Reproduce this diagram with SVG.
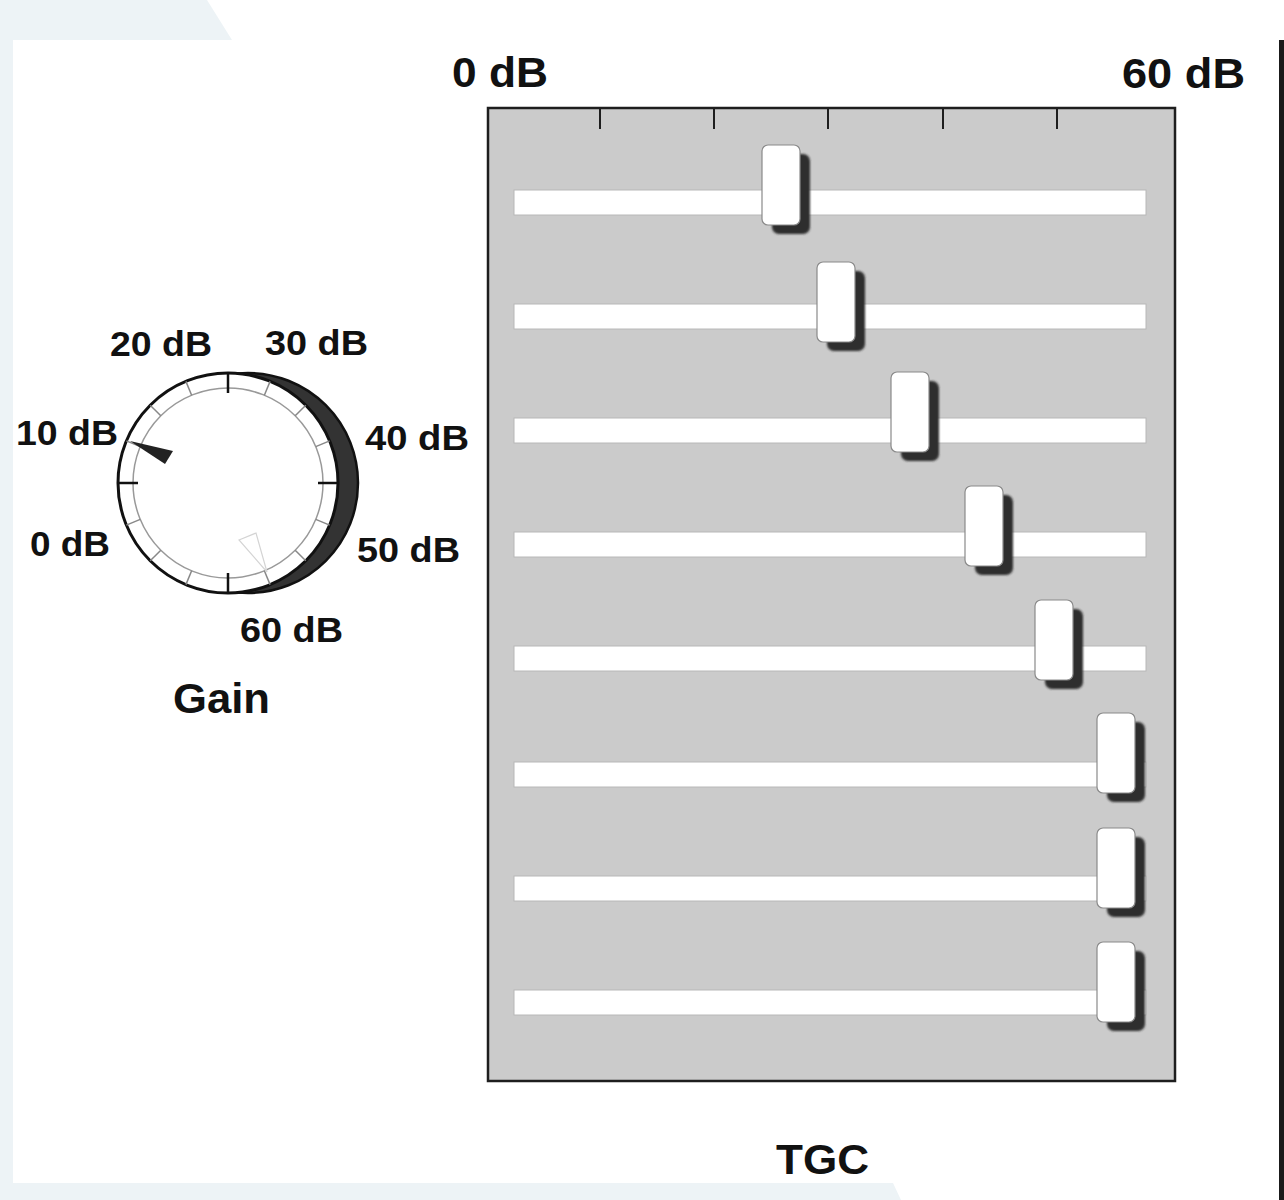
<svg xmlns="http://www.w3.org/2000/svg" width="1284" height="1200" viewBox="0 0 1284 1200">
<style>
.lbl{font-family:"Liberation Sans",Arial,sans-serif;font-weight:bold;fill:#111;}
.dial{font-size:35px;}
.big{font-size:42px;}
.track{fill:#fff;stroke:#b8b8b8;stroke-width:1;}
.handle{fill:#fff;stroke:#8a8a8a;stroke-width:1.2;}
.shadow{fill:#2e2e2e;}
.minor{stroke:#888;stroke-width:1.5;}
.major{stroke:#111;stroke-width:2.5;}
</style>
<defs>
<filter id="soft" x="-20%" y="-20%" width="140%" height="140%"><feGaussianBlur stdDeviation="0.8"/></filter>
<g id="h">
<rect class="shadow" x="10" y="9" width="38" height="80" rx="7" filter="url(#soft)"/>
<rect class="handle" x="0" y="0" width="38" height="80" rx="6"/>
</g>
</defs>
<rect x="0" y="0" width="1284" height="1200" fill="#ffffff"/>
<polygon points="0,0 207,0 232,40 13,40 13,1183 893,1183 901,1200 0,1200" fill="#edf3f6"/>
<rect x="1279" y="40" width="5" height="1160" fill="#1a1a1a"/>

<g id="gain-knob">
<circle cx="248" cy="483" r="110" fill="#333" stroke="#111" stroke-width="2.5"/>
<circle cx="228" cy="483" r="110" fill="#fff" stroke="#111" stroke-width="3"/>
<circle cx="228" cy="483" r="95" fill="none" stroke="#999" stroke-width="1.5"/>
<g transform="translate(228,483)">
<line class="major" x1="0" y1="-110" x2="0" y2="-90"/>
<line class="major" x1="0" y1="110" x2="0" y2="90"/>
<line class="major" x1="-110" y1="0" x2="-90" y2="0"/>
<line class="major" x1="110" y1="0" x2="90" y2="0"/>
<g class="minor">
<line x1="0" y1="-110" x2="0" y2="-95" transform="rotate(22.5)"/>
<line x1="0" y1="-110" x2="0" y2="-95" transform="rotate(45)"/>
<line x1="0" y1="-110" x2="0" y2="-95" transform="rotate(67.5)"/>
<line x1="0" y1="-110" x2="0" y2="-95" transform="rotate(112.5)"/>
<line x1="0" y1="-110" x2="0" y2="-95" transform="rotate(135)"/>
<line x1="0" y1="-110" x2="0" y2="-95" transform="rotate(157.5)"/>
<line x1="0" y1="-110" x2="0" y2="-95" transform="rotate(202.5)"/>
<line x1="0" y1="-110" x2="0" y2="-95" transform="rotate(225)"/>
<line x1="0" y1="-110" x2="0" y2="-95" transform="rotate(247.5)"/>
<line x1="0" y1="-110" x2="0" y2="-95" transform="rotate(292.5)"/>
<line x1="0" y1="-110" x2="0" y2="-95" transform="rotate(315)"/>
<line x1="0" y1="-110" x2="0" y2="-95" transform="rotate(337.5)"/>
</g>
</g>
<polygon points="130,441 173,451 165,464" fill="#222"/>
<polygon points="239,540 256,533 267,572" fill="none" stroke="#d4d4d4" stroke-width="1.2"/>
<text class="lbl dial" x="110" y="356" textLength="102" lengthAdjust="spacingAndGlyphs">20 dB</text>
<text class="lbl dial" x="265" y="355" textLength="103" lengthAdjust="spacingAndGlyphs">30 dB</text>
<text class="lbl dial" x="16" y="445" textLength="102" lengthAdjust="spacingAndGlyphs">10 dB</text>
<text class="lbl dial" x="365" y="450" textLength="104" lengthAdjust="spacingAndGlyphs">40 dB</text>
<text class="lbl dial" x="30" y="556" textLength="80" lengthAdjust="spacingAndGlyphs">0 dB</text>
<text class="lbl dial" x="357" y="562" textLength="103" lengthAdjust="spacingAndGlyphs">50 dB</text>
<text class="lbl dial" x="240" y="642" textLength="103" lengthAdjust="spacingAndGlyphs">60 dB</text>
<text class="lbl big" x="173" y="713" textLength="97" lengthAdjust="spacingAndGlyphs">Gain</text>
</g>

<g id="tgc-panel">
<text class="lbl big" x="452" y="87" textLength="96" lengthAdjust="spacingAndGlyphs">0 dB</text>
<text class="lbl big" x="1122" y="88" textLength="123" lengthAdjust="spacingAndGlyphs">60 dB</text>
<rect x="488" y="108" width="687" height="973" fill="#cbcbcb" stroke="#1e1e1e" stroke-width="2.5"/>
<g stroke="#1e1e1e" stroke-width="2">
<line x1="600" y1="108" x2="600" y2="129"/>
<line x1="714" y1="108" x2="714" y2="129"/>
<line x1="828" y1="108" x2="828" y2="129"/>
<line x1="943" y1="108" x2="943" y2="129"/>
<line x1="1057" y1="108" x2="1057" y2="129"/>
</g>
<text class="lbl big" x="776" y="1174" font-size="44" textLength="93" lengthAdjust="spacingAndGlyphs">TGC</text>
</g>

<g id="slider-1"><rect class="track" x="514" y="190" width="632" height="25"/><use href="#h" x="762" y="145"/></g>
<g id="slider-2"><rect class="track" x="514" y="304" width="632" height="25"/><use href="#h" x="817" y="262"/></g>
<g id="slider-3"><rect class="track" x="514" y="418" width="632" height="25"/><use href="#h" x="891" y="372"/></g>
<g id="slider-4"><rect class="track" x="514" y="532" width="632" height="25"/><use href="#h" x="965" y="486"/></g>
<g id="slider-5"><rect class="track" x="514" y="646" width="632" height="25"/><use href="#h" x="1035" y="600"/></g>
<g id="slider-6"><rect class="track" x="514" y="762" width="632" height="25"/><use href="#h" x="1097" y="713"/></g>
<g id="slider-7"><rect class="track" x="514" y="876" width="632" height="25"/><use href="#h" x="1097" y="828"/></g>
<g id="slider-8"><rect class="track" x="514" y="990" width="632" height="25"/><use href="#h" x="1097" y="942"/></g>
<g id="connectors"></g>
</svg>
